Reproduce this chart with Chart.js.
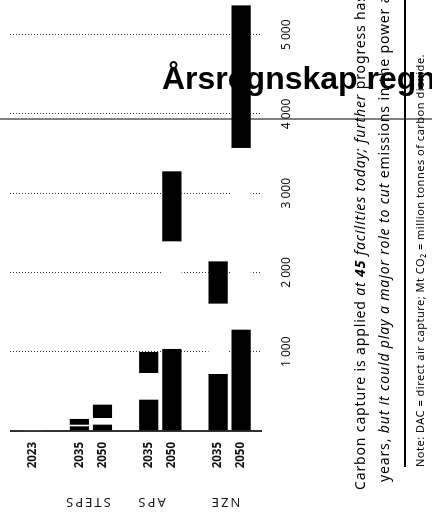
<!DOCTYPE html>
<html>
<head>
<meta charset="utf-8">
<script src="https://cdn.jsdelivr.net/npm/chart.js@4"></script>
<style>
html, body { margin: 0; padding: 0; overflow: hidden; width: 432px; height: 530px; background: #fff; }
#rule { position: absolute; left: 0; top: 118px; width: 432px; height: 2px; background: #808080; z-index: 0; }
#rotated {
    position: absolute; left: 0; top: 0; width: 530px; height: 432px; overflow: hidden;
    transform-origin: 0 0; transform: translate(0, 530px) rotate(-90deg);
    font-family: 'Noto Sans', sans-serif; color: #000; z-index: 1;
}
#chart { position: absolute; left: 0; top: 0; }
.sub { position: absolute; white-space: nowrap; font-size: 14px; line-height: 24px; letter-spacing: 0.85px; }
.sub i { font-style: italic; }
#line1 { left: 40px; top: 348px; }
#line2 { left: 48px; top: 372px; }
#sep { position: absolute; left: 63px; top: 404px; width: 467px; height: 2px; background: #000; }
#note { position: absolute; left: 63px; top: 413px; font-size: 11px; line-height: 14px; letter-spacing: 0.5px; white-space: nowrap; }
#title {
    position: absolute; left: 162px; top: 63px; z-index: 3; white-space: nowrap;
    font: bold 32px 'Liberation Sans', Arial, sans-serif; line-height: 30px; color: #000;
}
</style>
</head>
<body>
<div id="rule"></div>
<div id="rotated">
    <canvas id="chart" width="530" height="432"></canvas>
    <div class="sub" id="line1">Carbon capture is applied <i>at <b>45</b> facilities today; further</i> progress has been slow in recent</div>
    <div class="sub" id="line2">years, <i>but it could play a major role to cut</i> emissions in the power and industry sectors</div>
    <div id="sep"></div>
    <div id="note">Note: DAC = direct air capture; Mt CO₂ = million tonnes of carbon dioxide.</div>
</div>
<div id="title">Årsregnskap regnskapsåret</div>

<script>
// Lignes du graphique (positions sur l'axe des catégories)
const rowLabels = ['2023', '', '2035', '2050', '', '2035', '2050', '', '2035', '2050'];
const barRows = [0, 2, 3, 5, 6, 8, 9];

// Segments empilés (Mt CO2), du bas vers le haut
const bottomSeg = [0, 55, 76, 391, 1031, 715, 1274];
const middleSeg = [0, 20, 84, 337, 1358, 888, 2293];
const topSeg = [0, 73, 168, 265, 883, 533, 1799];

// Libellés des scénarios
const groupLabels = ['STEPS', 'APS', 'NZE'];
const groupPos = [2.35, 5.1, 8.3];

// Graduations de l'axe des valeurs
const valueTicks = [0, 1000, 2000, 3000, 4000, 5000];
const valueTickLabels = ['', '1 000', '2 000', '3 000', '4 000', '5 000'];

Chart.defaults.font.family = "'Noto Sans', sans-serif";

// Construction des barres flottantes à partir des segments
function floating(base, seg) {
    return barRows.map((row, i) => ({ y: row, x: [base[i], base[i] + seg[i]] }));
}
const zeros = barRows.map(() => 0);
const afterBottom = bottomSeg.slice();
const afterMiddle = bottomSeg.map((v, i) => v + middleSeg[i]);

// Libellés des groupes, tournés
const groupLabelPlugin = {
    id: 'groupLabels',
    afterDraw(chart) {
        const { ctx, scales: { y } } = chart;
        ctx.save();
        ctx.font = "13px 'Noto Sans'";
        ctx.letterSpacing = '2px';
        ctx.fillStyle = '#1a1a1a';
        ctx.textAlign = 'center';
        ctx.textBaseline = 'middle';
        groupLabels.forEach((label, i) => {
            ctx.save();
            ctx.translate(y.left + 28, y.getPixelForValue(groupPos[i]));
            ctx.rotate(-Math.PI / 2);
            ctx.fillText(label, 0, 0);
            ctx.restore();
        });
        ctx.restore();
    }
};

const isZero = c => c.tick && c.tick.value === 0;

new Chart(document.getElementById('chart').getContext('2d'), {
    type: 'bar',
    data: {
        datasets: [
            { label: 'bottom', data: floating(zeros, bottomSeg), backgroundColor: '#000' },
            { label: 'middle', data: floating(afterBottom, middleSeg), backgroundColor: '#fff' },
            { label: 'top', data: floating(afterMiddle, topSeg), backgroundColor: '#000' }
        ]
    },
    options: {
        indexAxis: 'y',
        responsive: false,
        animation: false,
        devicePixelRatio: 1,
        layout: { padding: { top: 10, right: 3, bottom: 0, left: 0 } },
        datasets: {
            bar: { grouped: false, barThickness: 18.5, borderWidth: 0 }
        },
        plugins: { legend: { display: false }, tooltip: { enabled: false } },
        scales: {
            x: {
                type: 'linear',
                min: 0,
                max: 5400,
                position: 'bottom',
                afterBuildTicks: s => { s.ticks = valueTicks.map(v => ({ value: v })); },
                afterFit: s => { s.height = 170; s.paddingLeft = 0; s.paddingRight = 0; },
                grid: {
                    drawTicks: false,
                    color: '#333',
                    lineWidth: c => isZero(c) ? 2 : 1
                },
                border: { display: false, dash: c => isZero(c) ? [] : [1, 2] },
                ticks: {
                    padding: 17,
                    color: '#111',
                    font: { size: 12 },
                    callback: v => valueTickLabels[valueTicks.indexOf(v)] ?? ''
                }
            },
            y: {
                type: 'linear',
                min: -1,
                max: 9.9,
                reverse: true,
                offset: false,
                position: 'left',
                afterBuildTicks: s => { s.ticks = barRows.map(v => ({ value: v })); },
                afterFit: s => { s.width = 99; s.paddingTop = 0; s.paddingBottom = 0; },
                grid: { display: false, drawTicks: false },
                border: { display: false },
                ticks: {
                    padding: 11,
                    color: '#111',
                    font: { size: 11.5, weight: 'bold' },
                    callback: v => rowLabels[v]
                }
            }
        }
    },
    plugins: [groupLabelPlugin]
});
</script>
</body>
</html>
